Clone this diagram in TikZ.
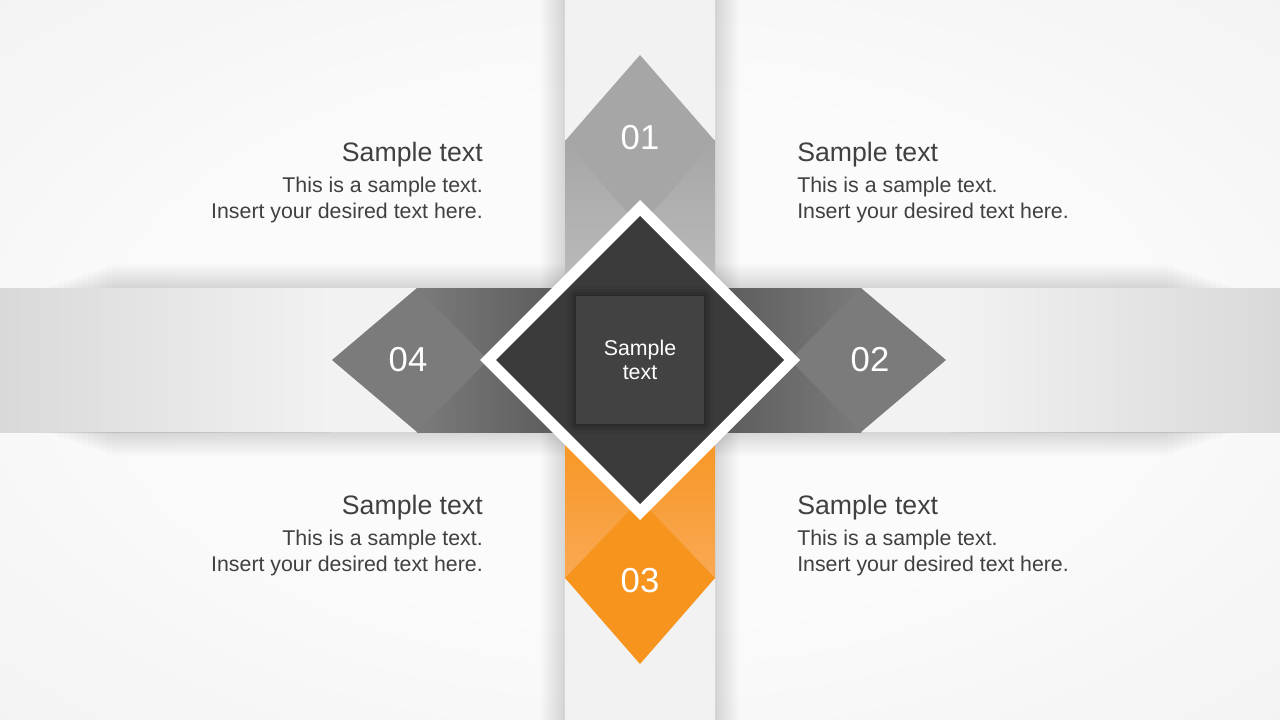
\documentclass[tikz,border=0pt]{standalone}
\usepackage{fontspec}
\setmainfont{Liberation Sans}
\usetikzlibrary{shadows.blur}

\definecolor{txtgray}{HTML}{404040}
\definecolor{bgcenter}{HTML}{FBFBFB}
\definecolor{bgedge}{HTML}{E3E3E3}
\definecolor{bandgray}{HTML}{F2F2F2}
\definecolor{bandedge}{HTML}{D9D9D9}
\definecolor{tiplight}{HTML}{A6A6A6}
\definecolor{bodylight}{HTML}{BDBDBD}
\definecolor{tipmid}{HTML}{7B7B7B}
\definecolor{bodydark}{HTML}{575757}
\definecolor{coregray}{HTML}{3B3B3B}
\definecolor{boxgray}{HTML}{424242}
\definecolor{tiporange}{HTML}{F7941E}
\definecolor{bodyorange}{HTML}{F9A954}

\pgfdeclareradialshading{backdrop}{\pgfpointorigin}{color(0bp)=(bgcenter); color(18bp)=(bgcenter); color(72bp)=(bgedge)}

\tikzset{
	heading/.style={font=\fontsize{20}{24}\selectfont, text=txtgray, inner sep=0pt},
	body/.style={font=\fontsize{16}{19}\selectfont, text=txtgray, inner sep=0pt},
	number/.style={font=\fontsize{26}{30}\selectfont, text=white, inner sep=0pt},
	centerbox/.style={fill=boxgray, minimum size=96pt, inner sep=0pt, align=center,
		font=\fontsize{16}{18}\selectfont, text=white,
		blur shadow={shadow xshift=0pt, shadow yshift=0pt, shadow blur radius=7pt, shadow opacity=60}},
	edgeshadow/.style={fill=black, opacity=0.011}
}

\begin{document}
\begin{tikzpicture}[x=0.75pt, y=-0.75pt]
	\useasboundingbox (0,0) rectangle (1280,720);
	
	\shade[shading=backdrop] (0,0) rectangle (1280,720);
	
	\shade[left color=bandedge, right color=bandgray] (0,288) rectangle (330,432);
	\fill[bandgray] (330,288) rectangle (950,432);
	\shade[left color=bandgray, right color=bandedge] (950,288) rectangle (1280,432);
	\foreach \i in {1,...,12}
	{
		\fill[edgeshadow] (40+\i*6,288-\i*2) rectangle (1240-\i*6,288);
		\fill[edgeshadow] (40+\i*6,432) rectangle (1240-\i*6,432+\i*2);
	}
	
	\fill[bandgray] (565,0) rectangle (715,720);
	\foreach \i in {1,...,12}
	{
		\fill[edgeshadow] (565-\i*2,0) rectangle (565,720);
		\fill[edgeshadow] (715,0) rectangle (715+\i*2,720);
	}
	
	\shade[top color=tiplight, bottom color=bodylight] (565,141) rectangle (715,300);
	\shade[left color=bodydark, right color=tipmid] (700,288) rectangle (861,432);
	\shade[top color=tiporange, bottom color=bodyorange] (565,420) rectangle (715,578);
	\shade[left color=tipmid, right color=bodydark] (417,288) rectangle (580,432);
	
	\fill[tiplight] (640,55) -- (715,141) -- (640,227) -- (565,141) -- cycle;
	\fill[tipmid] (946,360) -- (861,432) -- (790,360) -- (861,288) -- cycle;
	\fill[tiporange] (640,664) -- (565,578) -- (640,500) -- (715,578) -- cycle;
	\fill[tipmid] (332,360) -- (417,288) -- (488,360) -- (417,432) -- cycle;
	
	\fill[white] (640,200) -- (800,360) -- (640,520) -- (480,360) -- cycle;
	\fill[coregray] (640,216) -- (784,360) -- (640,504) -- (496,360) -- cycle;
	
	\node [centerbox] (core) at (640,360) {Sample\\text};
	
	\foreach \n/\x/\y in {01/640/138, 02/870/360, 03/640/581, 04/408/360}
	\node [number] (num-\n) at (\x,\y) {\n};
	
	\foreach \b/\x/\y/\side in {tl/483/162/east, tr/797/162/west, bl/483/514/east, br/797/514/west}
	{
		\node [heading, anchor=base \side] (head-\b) at (\x,\y) {Sample text};
		\node [body, anchor=base \side] (first-\b) at (\x,\y+31) {This is a sample text.};
		\node [body, anchor=base \side] (second-\b) at (\x,\y+57) {Insert your desired text here.};
	}
\end{tikzpicture}
\end{document}
